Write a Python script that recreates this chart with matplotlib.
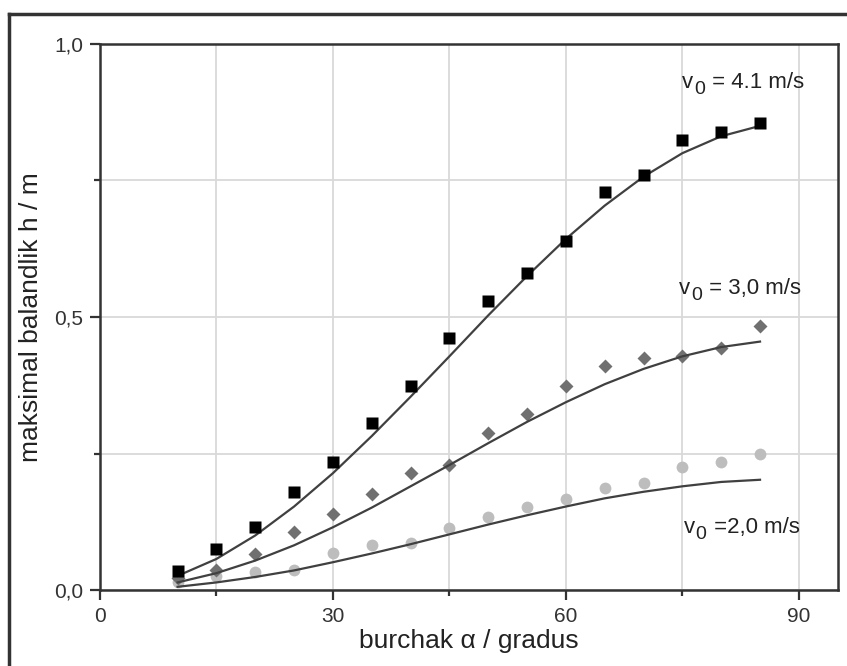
import matplotlib.pyplot as plt
from matplotlib.lines import Line2D
from matplotlib.ticker import MultipleLocator

plt.rcParams['font.family'] = ['Liberation Sans', 'DejaVu Sans']

# measured points (angle in degrees, height in m)
angles = [10, 15, 20, 25, 30, 35, 40, 45, 50, 55, 60, 65, 70, 75, 80, 85]
h_41 = [0.035, 0.075, 0.115, 0.180, 0.235, 0.306, 0.374, 0.461, 0.529,
        0.580, 0.639, 0.729, 0.760, 0.824, 0.839, 0.855]
h_30 = [0.022, 0.037, 0.066, 0.106, 0.139, 0.176, 0.214, 0.229, 0.287,
        0.322, 0.374, 0.410, 0.425, 0.429, 0.443, 0.484]
h_20 = [0.015, 0.025, 0.034, 0.037, 0.068, 0.082, 0.086, 0.113, 0.133,
        0.152, 0.167, 0.186, 0.196, 0.225, 0.235, 0.250]

# theory curves
fit_41 = [0.026, 0.057, 0.100, 0.153, 0.214, 0.282, 0.354, 0.428, 0.503,
          0.575, 0.643, 0.704, 0.757, 0.800, 0.831, 0.850]
fit_30 = [0.014, 0.031, 0.054, 0.082, 0.115, 0.151, 0.190, 0.229, 0.269,
          0.308, 0.344, 0.377, 0.405, 0.428, 0.445, 0.455]
fit_20 = [0.006, 0.014, 0.024, 0.036, 0.051, 0.067, 0.084, 0.102, 0.120,
          0.137, 0.153, 0.168, 0.180, 0.190, 0.198, 0.202]

labels = ['= 4.1 m/s', '= 3,0 m/s', '=2,0 m/s']
label_pos = [(75, 0.93), (74.6, 0.553), (75.2, 0.115)]

fig = plt.figure(figsize=(8.47, 6.66), dpi=100)
ax = fig.add_axes([0.118, 0.114, 0.871, 0.820])

line_c = '#404040'
ax.plot(angles, fit_41, color=line_c, lw=1.6, zorder=3)
ax.plot(angles, fit_30, color=line_c, lw=1.6, zorder=3)
ax.plot(angles, fit_20, color=line_c, lw=1.6, zorder=3)

ax.plot(angles, h_20, 'o', color='#bdbdbd', ms=8.5, mec='none', zorder=2)
ax.plot(angles, h_30, 'D', color='#707070', ms=7, mec='none', zorder=2)
ax.plot(angles, h_41, 's', color='black', ms=9, mec='none', zorder=4)

ax.set_xlim(0, 95)
ax.set_ylim(0, 1.0)
ax.xaxis.set_minor_locator(MultipleLocator(15))
ax.yaxis.set_minor_locator(MultipleLocator(0.25))
ax.set_xticks([0, 30, 60, 90])
ax.set_xticklabels(['0', '30', '60', '90'])
ax.set_yticks([0, 0.5, 1.0])
ax.set_yticklabels(['0,0', '0,5', '1,0'])

ax.grid(True, which='both', color='#d9d9d9', lw=1.3, zorder=0)
ax.set_axisbelow(True)

ax.tick_params(which='major', direction='out', length=7, width=1.6,
               labelsize=15, pad=5, colors='#333333')
ax.tick_params(which='minor', direction='out', length=4, width=1.6,
               colors='#333333')
for s in ax.spines.values():
    s.set_linewidth(1.8)
    s.set_color('#333333')

ax.set_xlabel('burchak α / gradus', fontsize=19, color='#222222', labelpad=2)
ax.set_ylabel('maksimal balandlik h / m', fontsize=19, color='#222222',
              labelpad=8)

# "v0 = ..." labels: v, lowered subscript 0, then the rest
for (x, y), rest in zip(label_pos, labels):
    t1 = ax.text(x, y, 'v', fontsize=16, color='#222222', va='center')
    t2 = ax.annotate('0', xy=(1, 0), xycoords=t1, xytext=(0.5, -4),
                     textcoords='offset points', fontsize=14,
                     color='#222222', va='bottom')
    ax.annotate(' ' + rest if not rest.startswith('=2') else ' ' + rest,
                xy=(1, 0), xycoords=t1, xytext=(9, 0),
                textcoords='offset points', fontsize=16, color='#222222',
                va='bottom')

# outer frame (cut off at right and bottom)
fig.add_artist(Line2D([9 / 847, 9 / 847], [0, 1 - 14 / 666],
                      transform=fig.transFigure, color='#333333', lw=2.5))
fig.add_artist(Line2D([9 / 847, 1], [1 - 14 / 666, 1 - 14 / 666],
                      transform=fig.transFigure, color='#333333', lw=2.5))

fig.savefig('out.png', dpi=100)
